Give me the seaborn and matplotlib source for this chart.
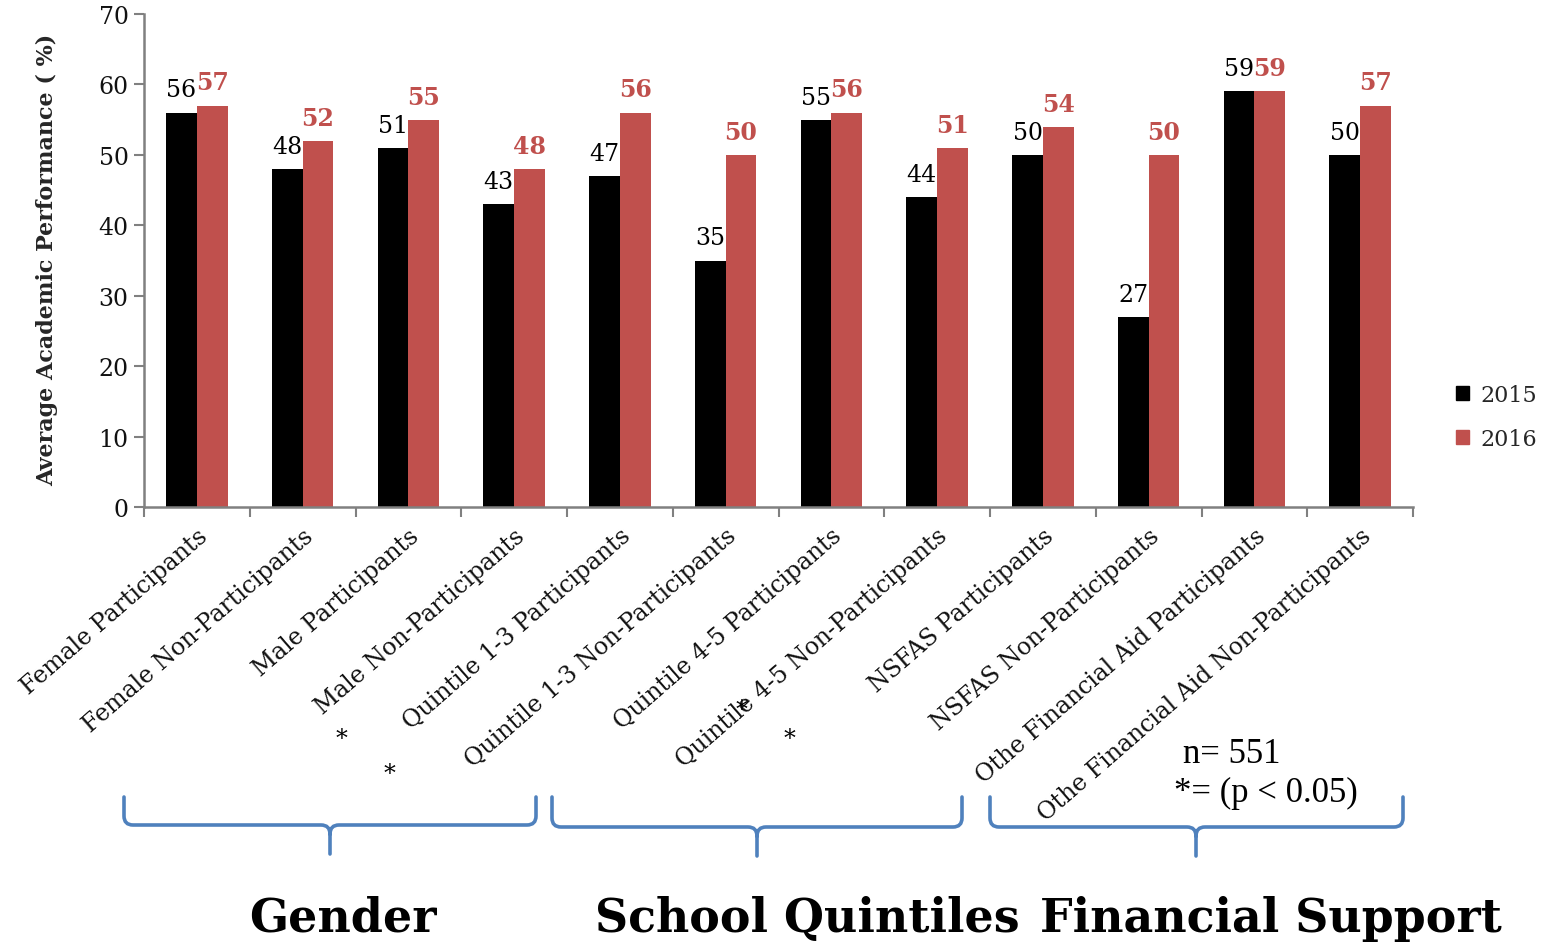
import matplotlib
matplotlib.use("Agg")
import matplotlib.pyplot as plt
from matplotlib.path import Path
from matplotlib.patches import PathPatch, Patch
import seaborn as sns
import pandas as pd

categories = [
    "Female Participants", "Female Non-Participants",
    "Male Participants", "Male Non-Participants",
    "Quintile 1-3 Participants", "Quintile 1-3 Non-Participants",
    "Quintile 4-5 Participants", "Quintile 4-5 Non-Participants",
    "NSFAS Participants", "NSFAS Non-Participants",
    "Othe Financial Aid Participants", "Othe Financial Aid Non-Participants",
]
years = ["2015", "2016"]
values_2015 = [56, 48, 51, 43, 47, 35, 55, 44, 50, 27, 59, 50]
values_2016 = [57, 52, 55, 48, 56, 50, 56, 51, 54, 50, 59, 57]
group_names = ["Gender", "School Quintiles", "Financial Support"]
sample_note = ["n= 551", "*= (p < 0.05)"]

df = pd.DataFrame({
    "Category": categories * 2,
    "Year": [years[0]] * len(categories) + [years[1]] * len(categories),
    "Score": values_2015 + values_2016,
})

sns.set_theme(style="white")
plt.rcParams["font.family"] = ["DejaVu Serif"]

BLACK = "#000000"
RED = "#C0504D"
GREY = "#808080"
BLUE = "#4F81BD"

W, H = 1546, 945
fig = plt.figure(figsize=(W / 100, H / 100), dpi=100)
ax = fig.add_axes([144 / W, 1 - 508 / H, (1413 - 144) / W, (508 - 15) / H])

sns.barplot(data=df, x="Category", y="Score", hue="Year", order=categories,
            hue_order=years, palette=[BLACK, RED], width=0.58, gap=0,
            saturation=1, edgecolor="none", linewidth=0, ax=ax, legend=False)

ax.set_xlim(-0.5, len(categories) - 0.5)
ax.set_ylim(0, 70)
ax.set_yticks(range(0, 71, 10))
ax.tick_params(axis="y", labelsize=17, length=7, width=1.5, color=GREY,
               direction="out", left=True, pad=4, labelcolor="#111111")
ax.set_xticks(range(len(categories)))
ax.set_xticklabels(categories, rotation=41, ha="right", rotation_mode="anchor",
                   fontsize=17, color="#111111")
ax.tick_params(axis="x", length=0, pad=12)
ax.set_xticks([i - 0.5 for i in range(len(categories) + 1)], minor=True)
ax.tick_params(axis="x", which="minor", length=7, width=1.5, color=GREY,
               direction="out", bottom=True)

for side in ["top", "right"]:
    ax.spines[side].set_visible(False)
for side in ["left", "bottom"]:
    ax.spines[side].set_color(GREY)
    ax.spines[side].set_linewidth(1.8)

ax.set_xlabel("")
ax.set_ylabel("Average Academic Performance ( %)", fontsize=16,
              fontweight="bold")
ax.yaxis.set_label_coords(-0.068, 0.503)

ax.bar_label(ax.containers[0], labels=[str(v) for v in values_2015],
             padding=8, fontsize=17, color=BLACK)
ax.bar_label(ax.containers[1], labels=[str(v) for v in values_2016],
             padding=8, fontsize=17, color=RED, fontweight="bold")

ax.legend(handles=[Patch(color=BLACK, label=years[0]),
                   Patch(color=RED, label=years[1])],
          loc="center left", bbox_to_anchor=(1456 / W, 1 - 418 / H),
          bbox_transform=fig.transFigure, frameon=False, fontsize=16,
          handlelength=0.6, handleheight=0.6, handletextpad=0.5,
          labelspacing=1.0, borderpad=0, borderaxespad=0)


def fx(px):
    return px / W


def fy(py):
    return 1 - py / H


def brace(x0, x1, xm, top, bar, tip, r=9):
    pts = [
        (x0, top), (x0, bar - r), (x0, bar), (x0 + r, bar),
        (xm - r, bar), (xm, bar), (xm, bar + r), (xm, tip),
        (xm, bar + r), (xm, bar), (xm + r, bar),
        (x1 - r, bar), (x1, bar), (x1, bar - r), (x1, top),
    ]
    codes = [Path.MOVETO, Path.LINETO, Path.CURVE3, Path.CURVE3,
             Path.LINETO, Path.CURVE3, Path.CURVE3, Path.LINETO,
             Path.MOVETO, Path.CURVE3, Path.CURVE3,
             Path.LINETO, Path.CURVE3, Path.CURVE3, Path.LINETO]
    verts = [(fx(x), fy(y)) for x, y in pts]
    fig.add_artist(PathPatch(Path(verts, codes), transform=fig.transFigure,
                             facecolor="none", edgecolor=BLUE, linewidth=2.6,
                             capstyle="round", joinstyle="round"))


brace(124, 536, 330, 798, 826, 855)
brace(552, 962, 757, 798, 828, 857)
brace(990, 1403, 1196, 798, 828, 857)

for name, cx in zip(group_names, [343, 807, 1271]):
    fig.text(fx(cx), fy(919), name, ha="center", va="center", fontsize=33,
             fontweight="bold", color=BLACK)

for sx, sy in [(341, 740), (389, 775), (741, 711), (789, 740)]:
    fig.text(fx(sx), fy(sy), "*", ha="center", va="center", fontsize=17,
             color=BLACK)

fig.text(fx(1183), fy(755), sample_note[0], ha="left", va="center",
         fontsize=25, family="Liberation Serif", color=BLACK)
fig.text(fx(1174), fy(793), sample_note[1], ha="left", va="center",
         fontsize=25, family="Liberation Serif", color=BLACK)

fig.savefig("out.png", dpi=100, facecolor="white")
